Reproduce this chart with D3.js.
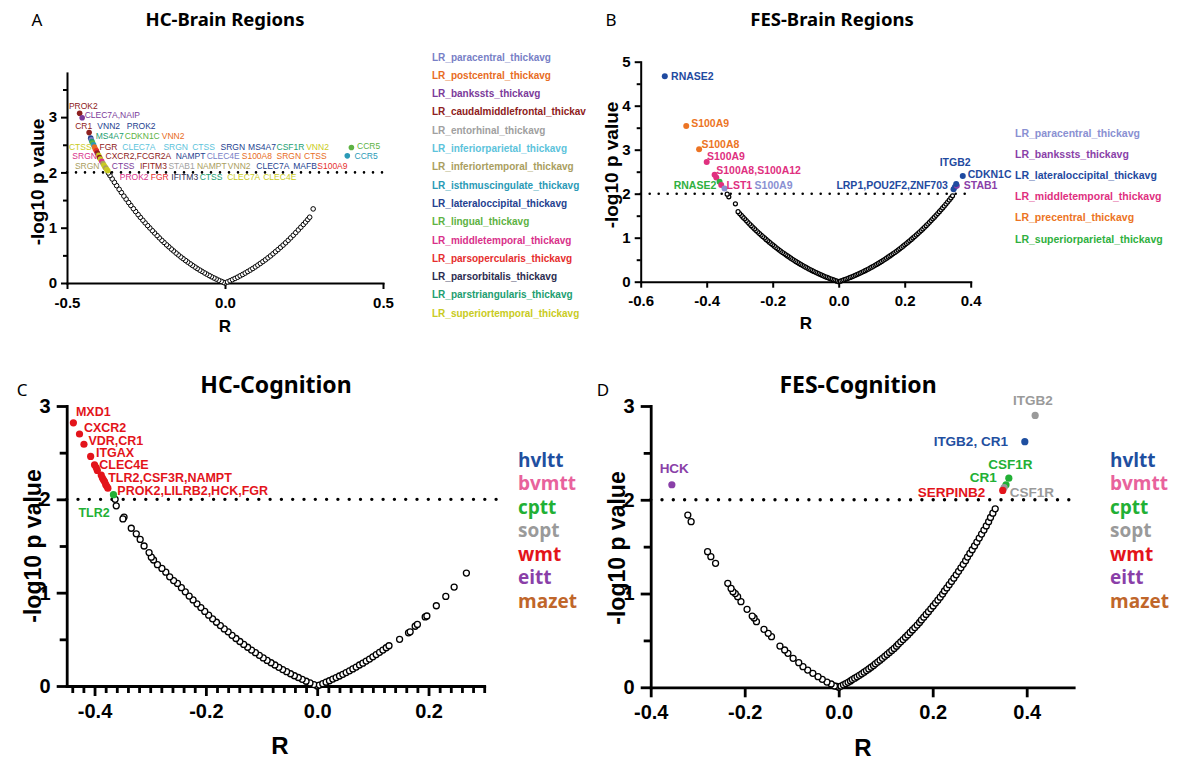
<!DOCTYPE html>
<html>
<head>
<meta charset="utf-8">
<script src="https://cdn.jsdelivr.net/npm/d3@7"></script>
<style>
  body { margin: 0; background: #fff; }
  svg { display: block; font-family: "Liberation Sans", Arial, sans-serif; }
</style>
</head>
<body>
<svg width="1186" height="760"></svg>
<script>
// ---------- A: HC - brain regions ----------
var hcRegions = ["paracentral", "postcentral", "bankssts", "caudalmiddlefrontal", "entorhinal",
  "inferiorparietal", "inferiortemporal", "isthmuscingulate", "lateraloccipital", "lingual",
  "middletemporal", "parsopercularis", "parsorbitalis", "parstriangularis", "superiortemporal"];
var hcRegionLabels = ["LR_paracentral_thickavg", "LR_postcentral_thickavg", "LR_bankssts_thickavg",
  "LR_caudalmiddlefrontal_thickav", "LR_entorhinal_thickavg", "LR_inferiorparietal_thickavg",
  "LR_inferiortemporal_thickavg", "LR_isthmuscingulate_thickavg", "LR_lateraloccipital_thickavg",
  "LR_lingual_thickavg", "LR_middletemporal_thickavg", "LR_parsopercularis_thickavg",
  "LR_parsorbitalis_thickavg", "LR_parstriangularis_thickavg", "LR_superiortemporal_thickavg"];

// [R, -log10 p] of non significant genes
var hcBrainOpen = [[0, 0],
  [-0.005,0.012],[-0.012,0.03],[-0.02,0.05],[-0.028,0.072],[-0.035,0.091],[-0.043,0.114],[-0.05,0.135],
  [-0.058,0.161],[-0.065,0.183],[-0.073,0.211],[-0.08,0.234],[-0.088,0.262],[-0.095,0.289],[-0.103,0.319],
  [-0.11,0.347],[-0.118,0.379],[-0.125,0.408],[-0.133,0.442],[-0.14,0.472],[-0.148,0.509],[-0.155,0.542],
  [-0.163,0.581],[-0.17,0.615],[-0.178,0.656],[-0.185,0.691],[-0.193,0.734],[-0.2,0.772],[-0.208,0.817],
  [-0.215,0.858],[-0.223,0.905],[-0.23,0.947],[-0.238,0.996],[-0.245,1.039],[-0.253,1.089],[-0.26,1.136],
  [-0.268,1.188],[-0.275,1.237],[-0.283,1.293],[-0.29,1.345],[-0.298,1.403],[-0.305,1.455],[-0.313,1.517],
  [-0.32,1.572],[-0.328,1.637],[-0.335,1.695],[-0.343,1.761],[-0.35,1.821],[-0.357,1.882],[-0.364,1.944],
  [-0.369,1.99],
  [0.008,0.02],[0.016,0.04],[0.024,0.061],[0.032,0.083],[0.04,0.105],[0.048,0.13],[0.056,0.154],[0.064,0.18],
  [0.072,0.207],[0.08,0.234],[0.088,0.262],[0.096,0.292],[0.104,0.323],[0.112,0.355],[0.12,0.387],[0.128,0.42],
  [0.136,0.455],[0.144,0.49],[0.152,0.528],[0.16,0.567],[0.168,0.605],[0.176,0.646],[0.184,0.686],[0.192,0.728],
  [0.2,0.772],[0.208,0.817],[0.216,0.864],[0.224,0.911],[0.232,0.96],[0.24,1.009],[0.248,1.058],[0.255,1.102],
  [0.262,1.148],[0.268,1.19],[0.279,1.34]];

// [R, -log10 p, region] of significant genes
var hcBrainHits = [
  [-0.46,3.07,"caudalmiddlefrontal"],[-0.452,2.99,"bankssts"],[-0.43,2.72,"caudalmiddlefrontal"],
  [-0.425,2.62,"lateraloccipital"],[-0.423,2.59,"paracentral"],[-0.421,2.56,"parstriangularis"],
  [-0.419,2.53,"lingual"],[-0.416,2.5,"isthmuscingulate"],[-0.413,2.46,"postcentral"],
  [-0.41,2.42,"postcentral"],[-0.407,2.39,"parsopercularis"],[-0.404,2.35,"caudalmiddlefrontal"],
  [-0.4,2.31,"superiortemporal"],[-0.397,2.27,"caudalmiddlefrontal"],[-0.394,2.24,"superiortemporal"],
  [-0.39,2.2,"middletemporal"],[-0.386,2.16,"inferiortemporal"],[-0.383,2.13,"superiortemporal"],
  [-0.38,2.1,"superiortemporal"],[-0.377,2.08,"inferiortemporal"],[-0.374,2.05,"superiortemporal"],
  [-0.371,2.03,"superiortemporal"],
  [0.4,2.45,"lingual"],[0.387,2.3,"isthmuscingulate"]];

// [gene, region, R, -log10 p] where the gene names sit
var hcBrainGenes = [
  ["PROK2","caudalmiddlefrontal",-0.494,3.2],
  ["CLEC7A,NAIP","bankssts",-0.444,3.04],
  ["CR1","caudalmiddlefrontal",-0.474,2.84],["VNN2","lateraloccipital",-0.404,2.84],["PROK2","lateraloccipital",-0.311,2.84],
  ["MS4A7","parstriangularis",-0.409,2.66],["CDKN1C","lingual",-0.317,2.66],["VNN2","postcentral",-0.2,2.66],
  ["CTSS","superiortemporal",-0.494,2.46],["FGR","caudalmiddlefrontal",-0.397,2.46],["CLEC7A","inferiorparietal",-0.325,2.46],
  ["SRGN","inferiorparietal",-0.195,2.46],["CTSS","inferiorparietal",-0.104,2.46],["SRGN","lateraloccipital",-0.014,2.46],
  ["MS4A7","lateraloccipital",0.073,2.46],["CSF1R","parstriangularis",0.163,2.46],["VNN2","superiortemporal",0.257,2.46],
  ["SRGN","middletemporal",-0.483,2.295],["CXCR2,FCGR2A","caudalmiddlefrontal",-0.378,2.295],["NAMPT","lateraloccipital",-0.156,2.295],
  ["CLEC4E","paracentral",-0.058,2.295],["S100A8","postcentral",0.053,2.295],["SRGN","postcentral",0.163,2.295],["CTSS","postcentral",0.25,2.295],
  ["SRGN","inferiortemporal",-0.475,2.115],["CTSS","bankssts",-0.358,2.115],["IFITM3","caudalmiddlefrontal",-0.269,2.115],
  ["STAB1","entorhinal",-0.179,2.115],["NAMPT","inferiortemporal",-0.089,2.115],["VNN2","inferiortemporal",0.009,2.115],
  ["CLEC7A","lateraloccipital",0.099,2.115],["MAFB","lateraloccipital",0.216,2.115],["S100A9","parsopercularis",0.292,2.115],
  ["PROK2","middletemporal",-0.333,1.92],["FGR","parsopercularis",-0.235,1.92],["IFITM3","parsorbitalis",-0.17,1.92],
  ["CTSS","parstriangularis",-0.08,1.92],["CLEC7A","superiortemporal",0.007,1.92],["CLEC4E","superiortemporal",0.121,1.92],
  ["CCR5","lingual",0.418,2.47],["CCR5","isthmuscingulate",0.41,2.3]];

// ---------- B: FES - brain regions ----------
var fesRegions = ["paracentral", "bankssts", "lateraloccipital", "middletemporal", "precentral", "superiorparietal"];
var fesRegionLabels = ["LR_paracentral_thickavg", "LR_bankssts_thickavg", "LR_lateraloccipital_thickavg",
  "LR_middletemporal_thickavg", "LR_precentral_thickavg", "LR_superiorparietal_thickavg"];

var fesBrainOpen = [[0, 0],
  [-0.005,0.013],[-0.01,0.026],[-0.015,0.04],[-0.02,0.053],[-0.025,0.067],[-0.03,0.082],[-0.035,0.097],[-0.04,0.112],
  [-0.045,0.128],[-0.05,0.144],[-0.055,0.161],[-0.06,0.178],[-0.065,0.196],[-0.07,0.214],[-0.075,0.232],[-0.08,0.25],
  [-0.085,0.269],[-0.09,0.289],[-0.095,0.309],[-0.1,0.33],[-0.105,0.351],[-0.11,0.372],[-0.115,0.393],[-0.12,0.415],
  [-0.125,0.438],[-0.13,0.461],[-0.135,0.485],[-0.14,0.509],[-0.145,0.534],[-0.15,0.559],[-0.155,0.585],[-0.16,0.611],
  [-0.165,0.637],[-0.17,0.664],[-0.175,0.691],[-0.18,0.719],[-0.185,0.748],[-0.19,0.777],[-0.195,0.807],[-0.2,0.837],
  [-0.205,0.867],[-0.21,0.898],[-0.215,0.929],[-0.22,0.961],[-0.225,0.994],[-0.23,1.027],[-0.235,1.06],[-0.24,1.094],
  [-0.245,1.129],[-0.25,1.164],[-0.255,1.2],[-0.26,1.237],[-0.265,1.274],[-0.27,1.311],[-0.275,1.35],[-0.28,1.389],
  [-0.285,1.428],[-0.29,1.467],[-0.295,1.508],[-0.3,1.549],[-0.305,1.591],[-0.313,1.77],[-0.333,1.93],[-0.338,1.99],
  [0.005,0.013],[0.01,0.026],[0.015,0.04],[0.02,0.053],[0.025,0.067],[0.03,0.082],[0.035,0.097],[0.04,0.112],
  [0.045,0.128],[0.05,0.144],[0.055,0.161],[0.06,0.178],[0.065,0.196],[0.07,0.214],[0.075,0.232],[0.08,0.25],
  [0.085,0.269],[0.09,0.289],[0.095,0.309],[0.1,0.33],[0.105,0.351],[0.11,0.372],[0.115,0.393],[0.12,0.415],
  [0.125,0.438],[0.13,0.461],[0.135,0.485],[0.14,0.509],[0.145,0.534],[0.15,0.559],[0.155,0.585],[0.16,0.611],
  [0.165,0.637],[0.17,0.664],[0.175,0.691],[0.18,0.719],[0.185,0.748],[0.19,0.777],[0.195,0.807],[0.2,0.837],
  [0.205,0.867],[0.21,0.898],[0.215,0.929],[0.22,0.961],[0.225,0.994],[0.23,1.027],[0.235,1.06],[0.24,1.094],
  [0.245,1.129],[0.25,1.164],[0.255,1.2],[0.26,1.237],[0.265,1.274],[0.27,1.311],[0.275,1.35],[0.28,1.389],
  [0.285,1.428],[0.29,1.467],[0.295,1.508],[0.3,1.549],[0.305,1.591],[0.31,1.634],[0.315,1.677],[0.32,1.721],
  [0.325,1.766],[0.33,1.811],[0.335,1.857],[0.34,1.903],[0.345,1.951]];

var fesBrainHits = [
  [-0.527,4.67,"lateraloccipital"],[-0.462,3.54,"precentral"],[-0.423,3.01,"precentral"],
  [-0.4,2.72,"middletemporal"],[-0.376,2.43,"middletemporal"],[-0.371,2.37,"middletemporal"],
  [-0.361,2.27,"superiorparietal"],[-0.356,2.2,"middletemporal"],[-0.346,2.12,"paracentral"],
  [0.348,2.1,"lateraloccipital"],[0.352,2.15,"lateraloccipital"],[0.358,2.18,"bankssts"],
  [0.356,2.22,"lateraloccipital"],[0.376,2.4,"lateraloccipital"]];

var fesBrainGenes = [
  ["RNASE2","lateraloccipital",-0.508,4.675],["S100A9","precentral",-0.447,3.6],["S100A8","precentral",-0.416,3.13],
  ["S100A9","middletemporal",-0.399,2.86],["S100A8,S100A12","middletemporal",-0.371,2.52],
  ["RNASE2","superiorparietal",-0.5,2.2],["LST1","middletemporal",-0.34,2.2],["S100A9","paracentral",-0.255,2.2],
  ["ITGB2","lateraloccipital",0.306,2.72],["CDKN1C","lateraloccipital",0.391,2.45],
  ["LRP1,POU2F2,ZNF703","lateraloccipital",-0.007,2.18],["STAB1","bankssts",0.379,2.18]];

// ---------- C / D: cognition ----------
var cogTests = ["hvltt", "bvmtt", "cptt", "sopt", "wmt", "eitt", "mazet"];

var hcCogOpen = [[0, 0],
  [-0.006,0.015],[-0.013,0.033],[-0.02,0.051],[-0.027,0.071],[-0.034,0.091],[-0.041,0.11],[-0.048,0.131],
  [-0.055,0.153],[-0.062,0.176],[-0.069,0.2],[-0.076,0.225],[-0.083,0.249],[-0.09,0.274],[-0.097,0.301],
  [-0.104,0.329],[-0.111,0.357],[-0.118,0.385],[-0.125,0.415],[-0.132,0.445],[-0.139,0.477],[-0.146,0.509],
  [-0.153,0.543],[-0.16,0.58],[-0.167,0.612],[-0.174,0.647],[-0.181,0.683],[-0.188,0.72],[-0.195,0.759],
  [-0.202,0.799],[-0.209,0.84],[-0.216,0.88],[-0.223,0.922],[-0.23,0.964],[-0.237,1.009],[-0.244,1.053],
  [-0.251,1.099],[-0.258,1.13],[-0.265,1.17],[-0.272,1.22],[-0.279,1.26],[-0.287,1.3],[-0.294,1.35],
  [-0.298,1.38],[-0.302,1.43],[-0.311,1.5],[-0.318,1.57],[-0.325,1.63],[-0.334,1.69],[-0.347,1.81],
  [-0.349,1.79],[-0.361,1.93],[-0.363,2.0],
  [0.004,0.01],[0.01,0.025],[0.016,0.041],[0.022,0.056],[0.028,0.074],[0.034,0.09],[0.04,0.107],[0.046,0.125],
  [0.052,0.144],[0.058,0.163],[0.064,0.183],[0.07,0.203],[0.076,0.225],[0.082,0.245],[0.088,0.267],[0.094,0.289],
  [0.1,0.313],[0.106,0.337],[0.112,0.361],[0.118,0.385],[0.124,0.41],[0.129,0.431],
  [0.148,0.5],[0.164,0.57],[0.167,0.58],[0.176,0.64],[0.18,0.66],[0.194,0.74],[0.197,0.75],[0.214,0.86],
  [0.231,0.96],[0.246,1.06],[0.268,1.21]];

var hcCogHits = [
  [-0.438,2.82,"wmt"],[-0.427,2.7,"wmt"],[-0.419,2.59,"wmt"],[-0.407,2.46,"wmt"],[-0.4,2.37,"wmt"],
  [-0.397,2.34,"wmt"],[-0.395,2.31,"wmt"],[-0.388,2.26,"wmt"],[-0.386,2.23,"wmt"],[-0.384,2.21,"wmt"],
  [-0.382,2.19,"wmt"],[-0.38,2.16,"wmt"],[-0.378,2.14,"wmt"],[-0.376,2.12,"wmt"],[-0.366,2.05,"cptt"]];

var hcCogGenes = [
  ["MXD1","wmt",-0.4335,2.94],["CXCR2","wmt",-0.419,2.77],["VDR,CR1","wmt",-0.411,2.63],
  ["ITGAX","wmt",-0.3975,2.505],["CLEC4E","wmt",-0.3915,2.37],["TLR2,CSF3R,NAMPT","wmt",-0.3754,2.23],
  ["PROK2,LILRB2,HCK,FGR","wmt",-0.359,2.095],["TLR2","cptt",-0.429,1.857]];

var fesCogOpen = [[0, 0],
  [-0.004,0.01],[-0.009,0.014],[-0.016,0.035],[-0.025,0.056],[-0.035,0.085],[-0.044,0.113],[-0.055,0.149],
  [-0.066,0.184],[-0.076,0.22],[-0.085,0.263],[-0.097,0.309],[-0.108,0.362],[-0.115,0.398],[-0.125,0.44],
  [-0.143,0.54],[-0.15,0.576],[-0.159,0.618],[-0.175,0.7],[-0.18,0.739],[-0.184,0.76],[-0.195,0.832],
  [-0.208,0.913],[-0.215,0.966],[-0.22,1.0],[-0.225,1.02],[-0.229,1.055],[-0.236,1.109],[-0.262,1.322],
  [-0.272,1.393],[-0.279,1.446],[-0.314,1.766],[-0.321,1.837],
  [0.005,0.013],[0.01,0.026],[0.015,0.04],[0.02,0.053],[0.025,0.067],[0.029,0.082],[0.034,0.097],[0.039,0.112],
  [0.044,0.128],[0.049,0.144],[0.054,0.161],[0.059,0.178],[0.064,0.196],[0.069,0.214],[0.074,0.232],[0.078,0.25],
  [0.083,0.269],[0.088,0.289],[0.093,0.309],[0.098,0.33],[0.103,0.351],[0.108,0.372],[0.113,0.393],[0.118,0.415],
  [0.123,0.438],[0.127,0.461],[0.132,0.485],[0.137,0.509],[0.142,0.534],[0.147,0.559],[0.152,0.585],[0.157,0.611],
  [0.162,0.637],[0.167,0.664],[0.172,0.691],[0.176,0.719],[0.181,0.748],[0.186,0.777],[0.191,0.807],[0.196,0.837],
  [0.201,0.867],[0.206,0.898],[0.211,0.929],[0.216,0.961],[0.221,0.994],[0.225,1.027],[0.23,1.06],[0.235,1.094],
  [0.24,1.129],[0.245,1.164],[0.25,1.2],[0.255,1.237],[0.26,1.274],[0.265,1.311],[0.27,1.35],[0.274,1.389],
  [0.279,1.428],[0.284,1.467],[0.289,1.508],[0.294,1.549],[0.299,1.591],[0.304,1.634],[0.309,1.677],[0.314,1.721],
  [0.319,1.766],[0.323,1.811],[0.328,1.857],[0.333,1.903]];

var fesCogHits = [
  [0.418,2.9,"sopt"],[0.396,2.62,"hvltt"],[0.362,2.23,"cptt"],[0.356,2.16,"cptt"],
  [0.352,2.13,"sopt"],[0.349,2.1,"wmt"],[-0.355,2.16,"eitt"]];

var fesCogGenes = [
  ["ITGB2","sopt",0.371,3.056],["ITGB2, CR1","hvltt",0.202,2.62],["CSF1R","cptt",0.318,2.38],
  ["CR1","cptt",0.279,2.24],["SERPINB2","wmt",0.168,2.085],["CSF1R","sopt",0.364,2.08],["HCK","eitt",-0.381,2.34]];

// ---------- colours ----------
var hcRegionColors = ["#7880c6", "#e86c24", "#7b3a9a", "#8e2020", "#a0a0a0", "#5cc3db", "#aa9e60",
  "#2a9ab6", "#24418f", "#5db243", "#d9318a", "#e62e2e", "#2c2c50", "#219e70", "#c9cb22"];
var fesRegionColors = ["#8a90d2", "#8a3fa8", "#1f4aa0", "#e0307f", "#ec7424", "#2fb040"];
var cogColors = ["#1f4fa0", "#e8629c", "#22b035", "#9a9a9a", "#e3141b", "#8a3fa8", "#c0662a"];

var svg = d3.select("svg");
var bold = "bold";

function panel(c) {
  var g = svg.append("g");
  var x = d3.scaleLinear().domain(c.xDomain).range(c.xRange);
  var y = d3.scaleLinear().domain(c.yDomain).range(c.yRange);
  var col = d3.scaleOrdinal(c.groups, c.colors);

  // minor ticks first, no domain line
  if (c.xMinor) {
    g.append("g").attr("transform", "translate(0," + c.yRange[0] + ")")
      .call(d3.axisBottom(x).tickValues(c.xMinor).tickFormat("").tickSize(c.minor).tickSizeOuter(0))
      .call(function(a) { a.select(".domain").remove(); })
      .selectAll("line").attr("stroke-width", c.lw);
  }
  g.append("g").attr("transform", "translate(" + c.xRange[0] + ",0)")
    .call(d3.axisLeft(y).tickValues(c.yMinor).tickFormat("").tickSize(c.minor).tickSizeOuter(0))
    .call(function(a) { a.select(".domain").remove(); })
    .selectAll("line").attr("stroke-width", c.lw);

  var xa = g.append("g").attr("transform", "translate(0," + c.yRange[0] + ")")
    .call(d3.axisBottom(x).tickValues(c.xTicks).tickFormat(function(d) { return d.toFixed(1); })
      .tickSize(c.major).tickSizeOuter(0).tickPadding(c.xPad));
  var ya = g.append("g").attr("transform", "translate(" + c.xRange[0] + ",0)")
    .call(d3.axisLeft(y).tickValues(c.yTicks).tickFormat(d3.format("d"))
      .tickSize(c.major).tickSizeOuter(0).tickPadding(c.yPad));
  [xa, ya].forEach(function(a) {
    a.attr("font-family", "Liberation Sans, Arial, sans-serif").attr("font-size", c.tickFont).attr("font-weight", bold);
    a.select(".domain").attr("stroke-width", c.lw).attr("stroke-linecap", "square");
    a.selectAll(".tick line").attr("stroke-width", c.lw);
    a.selectAll(".tick text").attr("fill", "#000");
  });

  // p = 0.01 reference line
  g.append("line")
    .attr("x1", x(c.xDomain[0])).attr("x2", x(c.refEnd))
    .attr("y1", y(2)).attr("y2", y(2))
    .attr("stroke", "#000").attr("stroke-width", c.dot)
    .attr("stroke-linecap", "round").attr("stroke-dasharray", "0," + c.dotGap);

  g.append("g").selectAll("circle").data(c.open).join("circle")
    .attr("cx", function(d) { return x(d[0]); })
    .attr("cy", function(d) { return y(d[1]); })
    .attr("r", c.r).attr("fill", "#fff").attr("stroke", "#000").attr("stroke-width", c.rw);

  g.append("g").selectAll("circle").data(c.hits).join("circle")
    .attr("cx", function(d) { return x(d[0]); })
    .attr("cy", function(d) { return y(d[1]); })
    .attr("r", c.hr).attr("fill", function(d) { return col(d[2]); });

  g.append("g").selectAll("text").data(c.genes).join("text")
    .attr("x", function(d) { return x(d[2]); })
    .attr("y", function(d) { return y(d[3]); })
    .attr("dy", "0.35em")
    .attr("font-size", c.geneFont)
    .attr("font-weight", c.geneWeight)
    .attr("fill", function(d) { return col(d[1]); })
    .text(function(d) { return d[0]; });

  // legend
  g.append("g").selectAll("text").data(c.legend).join("text")
    .attr("x", c.legX)
    .attr("y", function(d, i) { return c.legY + i * c.legStep; })
    .attr("dy", "0.35em")
    .attr("font-family", c.legFamily)
    .attr("font-size", c.legFont).attr("font-weight", bold)
    .attr("fill", function(d, i) { return c.colors[i]; })
    .text(function(d) { return d; });

  g.append("text").attr("x", c.titleX).attr("y", c.titleY).attr("dy", "0.35em")
    .attr("text-anchor", "middle").attr("font-family", "Noto Sans, sans-serif")
    .attr("font-weight", bold).attr("font-size", c.titleFont).text(c.title);
  g.append("text").attr("x", c.letterX).attr("y", c.letterY).attr("dy", "0.35em")
    .attr("text-anchor", "middle").attr("font-family", "Noto Sans, sans-serif")
    .attr("font-size", 17).text(c.letter);
  g.append("text").attr("transform", "translate(" + c.ylabX + "," + c.ylabY + ") rotate(-90)")
    .attr("dy", "0.35em").attr("text-anchor", "middle")
    .attr("font-weight", bold).attr("font-size", c.labFont).text("-log10 p value");
  g.append("text").attr("x", c.xlabX).attr("y", c.xlabY).attr("dy", "0.35em")
    .attr("text-anchor", "middle").attr("font-weight", bold).attr("font-size", c.rFont).text("R");
}

panel({
  xDomain: [-0.5, 0.5], xRange: [67, 383], yDomain: [0, 3.8], yRange: [283, 72.9],
  xTicks: [-0.5, 0, 0.5], yTicks: [0, 1, 2, 3], yMinor: [0.5, 1.5, 2.5, 3.5],
  major: 6, minor: 4, lw: 2, xPad: 8, yPad: 4, tickFont: 15, refEnd: 0.5, dot: 2.6, dotGap: 9,
  open: hcBrainOpen, hits: hcBrainHits, genes: hcBrainGenes, groups: hcRegions, colors: hcRegionColors,
  r: 2.3, rw: 1, hr: 2.8, geneFont: 8.5, geneWeight: "normal",
  legend: hcRegionLabels, legX: 432, legY: 57, legStep: 18.3, legFont: 10, legFamily: "Liberation Sans, Arial, sans-serif",
  title: "HC-Brain Regions", titleX: 225, titleY: 20, titleFont: 18.5, letter: "A", letterX: 37, letterY: 20,
  ylabX: 37, ylabY: 182, xlabX: 225, xlabY: 326, labFont: 19, rFont: 17
});

panel({
  xDomain: [-0.6, 0.4], xRange: [640.7, 970.7], yDomain: [0, 5], yRange: [281.7, 61.7],
  xTicks: [-0.6, -0.4, -0.2, 0, 0.2, 0.4], yTicks: [0, 1, 2, 3, 4, 5], yMinor: [0.5, 1.5, 2.5, 3.5, 4.5],
  major: 6, minor: 4, lw: 2, xPad: 8, yPad: 4, tickFont: 15, refEnd: 0.393, dot: 2.6, dotGap: 9,
  open: fesBrainOpen, hits: fesBrainHits, genes: fesBrainGenes, groups: fesRegions, colors: fesRegionColors,
  r: 2, rw: 1.2, hr: 3, geneFont: 10.5, geneWeight: "bold",
  legend: fesRegionLabels, legX: 1015, legY: 133, legStep: 21.2, legFont: 10.5, legFamily: "Liberation Sans, Arial, sans-serif",
  title: "FES-Brain Regions", titleX: 832, titleY: 20, titleFont: 18.5, letter: "B", letterX: 611, letterY: 20,
  ylabX: 611, ylabY: 165, xlabX: 806, xlabY: 323, labFont: 19, rFont: 17
});

var cMinor = d3.range(-22, 16).map(function(i) { return i / 50; }).filter(function(v) { return Math.abs(v * 5 - Math.round(v * 5)) > 1e-6; });
panel({
  xDomain: [-0.45, 0.3], xRange: [66.7, 484.2], yDomain: [0, 3], yRange: [686, 406],
  xTicks: [-0.4, -0.2, 0, 0.2], xMinor: cMinor, yTicks: [0, 1, 2, 3], yMinor: [0.5, 1.5, 2.5],
  major: 10, minor: 7, lw: 2.8, xPad: 8, yPad: 6, tickFont: 20, refEnd: 0.323, dot: 3.4, dotGap: 11.3,
  open: hcCogOpen, hits: hcCogHits, genes: hcCogGenes, groups: cogTests, colors: cogColors,
  r: 3, rw: 1.3, hr: 3.6, geneFont: 12.5, geneWeight: "bold",
  legend: cogTests, legX: 518, legY: 460, legStep: 23.5, legFont: 19, legFamily: "Open Sans, sans-serif",
  title: "HC-Cognition", titleX: 276, titleY: 385, titleFont: 23, letter: "C", letterX: 22, letterY: 390,
  ylabX: 33, ylabY: 546, xlabX: 280, xlabY: 746, labFont: 23, rFont: 24
});

panel({
  xDomain: [-0.4, 0.5], xRange: [650.7, 1073.7], yDomain: [0, 3], yRange: [687.3, 406],
  xTicks: [-0.4, -0.2, 0, 0.2, 0.4], yTicks: [0, 1, 2, 3], yMinor: [0.5, 1.5, 2.5],
  major: 10, minor: 7, lw: 2.8, xPad: 8, yPad: 6, tickFont: 20, refEnd: 0.51, dot: 3.4, dotGap: 11.3,
  open: fesCogOpen, hits: fesCogHits, genes: fesCogGenes, groups: cogTests, colors: cogColors,
  r: 3, rw: 1.3, hr: 3.6, geneFont: 13.5, geneWeight: "bold",
  legend: cogTests, legX: 1110, legY: 460, legStep: 23.5, legFont: 19, legFamily: "Open Sans, sans-serif",
  title: "FES-Cognition", titleX: 858, titleY: 385, titleFont: 23, letter: "D", letterX: 603, letterY: 390,
  ylabX: 617, ylabY: 548, xlabX: 863, xlabY: 748, labFont: 23, rFont: 24
});
</script>
</body>
</html>
